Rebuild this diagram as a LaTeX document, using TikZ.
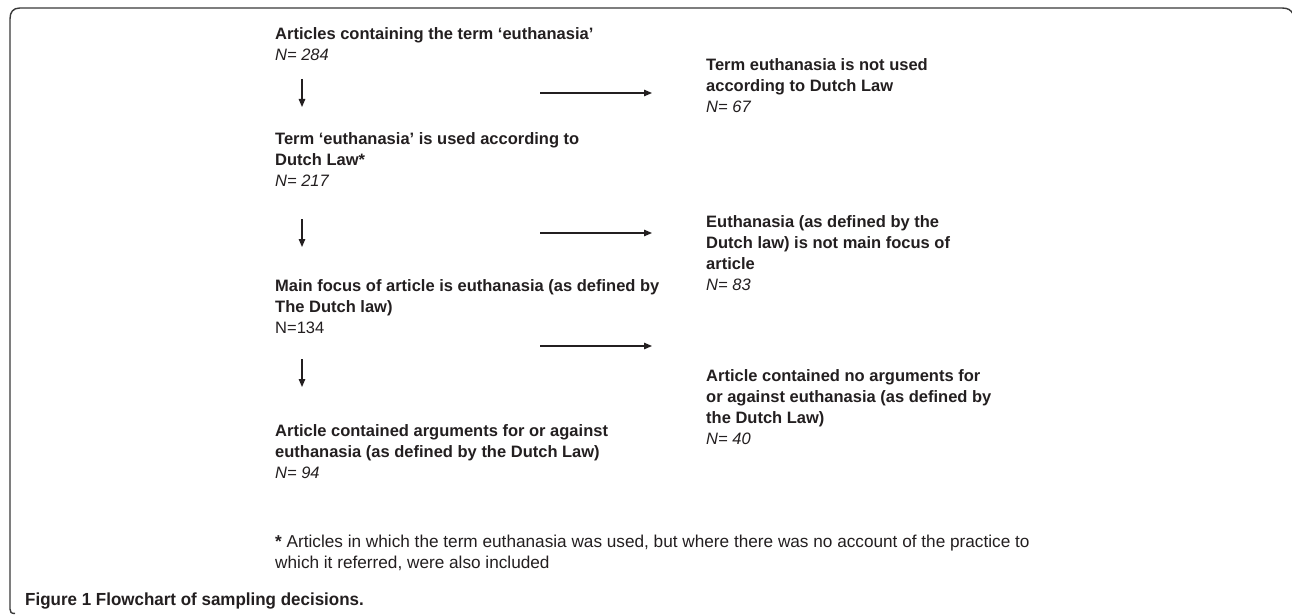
\documentclass[tikz,border=0pt]{standalone}
\usepackage{fontspec}
\setmainfont{Liberation Sans}
\newfontfamily\capfont[FakeStretch=0.97]{Liberation Sans}
\usetikzlibrary{arrows.meta}
\definecolor{ink}{HTML}{231F20}
\definecolor{framegray}{HTML}{3A3A3A}
\tikzset{
  blk/.style={anchor=base west, inner sep=0pt, align=left, text=ink,
    font=\fontsize{16.5}{21}\selectfont},
  note/.style={anchor=base west, inner sep=0pt, align=left, text=ink,
    font=\fontsize{17.2}{21}\selectfont},
  arr/.style={draw=ink, line width=1.3pt, -{Triangle[length=8pt,width=6.5pt]}},
  framestyle/.style={draw=framegray, line width=1.4pt}
}
\begin{document}
\begin{tikzpicture}[x=1pt,y=-1pt]
\useasboundingbox (0,0) rectangle (1292,615);
\fill[white] (0,0) rectangle (1292,615);
% frame
\draw[framestyle] (15,613.5) .. controls (11,613.5) and (10,612) .. (10,609)
  -- (10,19) .. controls (10,12) and (13,8) .. (20,8)
  -- (1282,8) .. controls (1288,8) and (1291,10) .. (1293,14);
% left column (anchor = baseline of last line)
\node[blk] (A) at (275,61) {\textbf{Articles containing the term ‘euthanasia’}\\\textit{N= 284}};
\node[blk] (B) at (275,186) {\textbf{Term ‘euthanasia’ is used according to}\\\textbf{Dutch Law*}\\\textit{N= 217}};
\node[blk] (C) at (275,333) {\textbf{Main focus of article is euthanasia (as defined by}\\\textbf{The Dutch law)}\\N=134};
\node[blk] (D) at (275,478) {\textbf{Article contained arguments for or against}\\\textbf{euthanasia (as defined by the Dutch Law)}\\\textit{N= 94}};
% right column
\node[blk] (E) at (706,113) {\textbf{Term euthanasia is not used}\\\textbf{according to Dutch Law}\\\textit{N= 67}};
\node[blk] (F) at (706,290) {\textbf{Euthanasia (as defined by the}\\\textbf{Dutch law) is not main focus of}\\\textbf{article}\\\textit{N= 83}};
\node[blk] (G) at (706,444) {\textbf{Article contained no arguments for}\\\textbf{or against euthanasia (as defined by}\\\textbf{the Dutch Law)}\\\textit{N= 40}};
% arrow end points
\coordinate (d1s) at (302,79);  \coordinate (d1e) at (302,107);
\coordinate (d2s) at (302,219); \coordinate (d2e) at (302,247);
\coordinate (d3s) at (302,359); \coordinate (d3e) at (302,387);
\coordinate (r1s) at (540,93);  \coordinate (r1e) at (652,93);
\coordinate (r2s) at (540,233); \coordinate (r2e) at (652,233);
\coordinate (r3s) at (540,346); \coordinate (r3e) at (652,346);
\draw[arr] (d1s) -- (d1e);
\draw[arr] (d2s) -- (d2e);
\draw[arr] (d3s) -- (d3e);
\draw[arr] (r1s) -- (r1e);
\draw[arr] (r2s) -- (r2e);
\draw[arr] (r3s) -- (r3e);
% footnote
\node[note] (fn) at (275,568) {\textbf{*} Articles in which the term euthanasia was used, but where there was no account of the practice to\\which it referred, were also included};
% caption
\node[anchor=base west, inner sep=0pt, text=ink, font=\capfont\bfseries\fontsize{17.5}{20}\selectfont] (cap) at (25,605) {Figure 1 Flowchart of sampling decisions.};
\end{tikzpicture}
\end{document}
